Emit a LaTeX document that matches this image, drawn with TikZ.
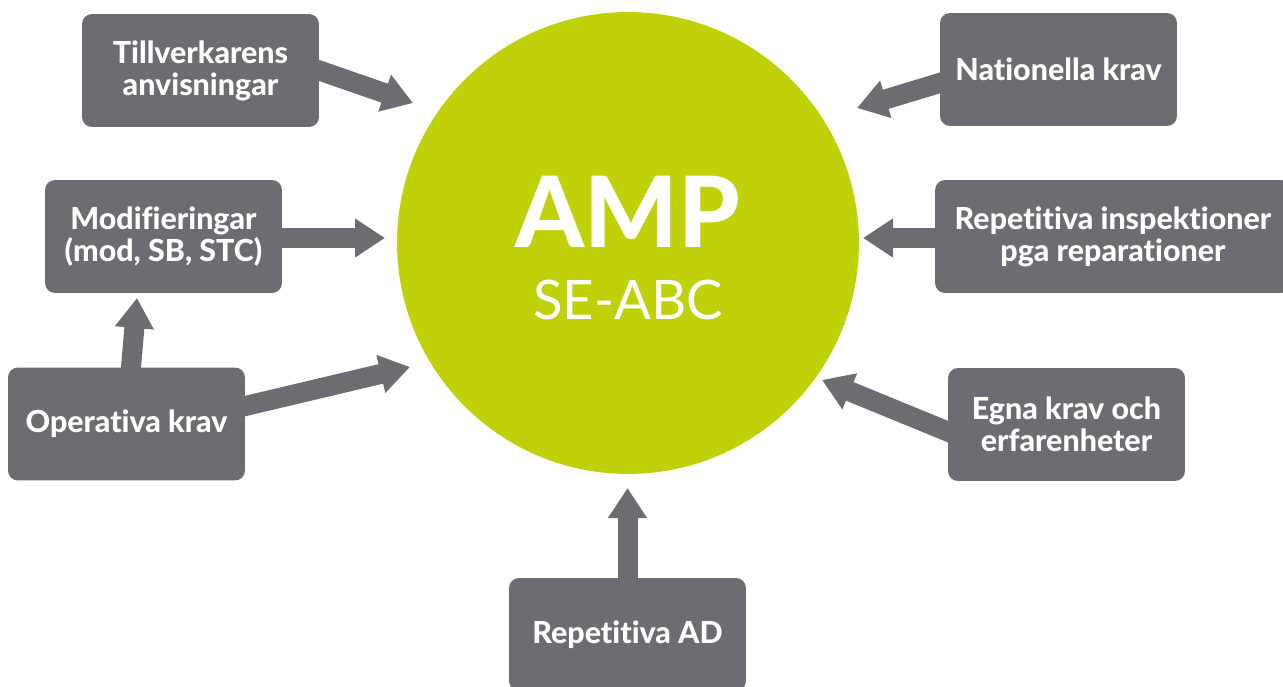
\documentclass[tikz,border=0pt]{standalone}
\usepackage{fontspec}
\setmainfont{Lato}[Ligatures=NoCommon, BoldFont={Lato Heavy}]
\usetikzlibrary{arrows.meta,calc,backgrounds}

\definecolor{boxgrey}{RGB}{108,109,113}
\definecolor{limegreen}{RGB}{192,209,10}

\tikzset{
    greybox/.style={fill=boxgrey, rounded corners=0.2cm, minimum width=4.74cm,
        minimum height=2.26cm, text=white, align=center,
        font=\fontsize{17.3}{18.3}\selectfont\bfseries},
    bigarrow/.style={draw=boxgrey, line width=0.4cm, shorten <=-0.15cm,
        -{Triangle[length=0.6cm,width=0.74cm]}, color=boxgrey}
}

\begin{document}
\begin{tikzpicture}[x=0.02cm, y=-0.02cm]
    % Fix the page size
    \useasboundingbox (0,0) rectangle (1283,686);

    % The central circle
    \node[circle, fill=limegreen, minimum size=9.24cm, inner sep=0] (amp) at (628,243) {};
    \node[text=white, font=\fontsize{56}{60}\selectfont\bfseries] (amptitle) at (628,212) {AMP};
    \node[text=white, font=\fontsize{31}{34}\selectfont] (ampsub) at (628,300) {SE-ABC};

    % Boxes on the left
    \node[greybox] (tv) at (200.5,70.5) {Tillverkarens\\anvisningar};
    \node[greybox] (mod) at (163.5,236.5) {Modifieringar\\(mod, SB, STC)};
    \node[greybox] (op) at (126.5,424) {Operativa krav};

    % Boxes on the right
    \node[greybox] (nat) at (1058.5,69.5) {Nationella krav};
    \node[greybox, minimum width=7.12cm] (rep) at (1113,236.5) {Repetitiva inspektioner\\pga reparationer};
    \node[greybox] (egna) at (1066.5,424.5) {Egna krav och\\erfarenheter};

    % Box at the bottom
    \node[greybox] (ad) at (627.5,634.5) {Repetitiva AD};

    % Arrow tips
    \coordinate (tvtip) at (413,103);
    \coordinate (modtip) at (385,238);
    \coordinate (opmodtip) at (137,298);
    \coordinate (optip) at (410,367);
    \coordinate (nattip) at (857,108);
    \coordinate (reptip) at (863,238);
    \coordinate (egnatip) at (822,380);
    \coordinate (adtip) at (627.5,488);

    % Arrows behind the boxes
    \begin{scope}[on background layer]
        \draw[bigarrow] (tv.east) -- (tvtip);
        \draw[bigarrow] (mod.east |- modtip) -- (modtip);
        \draw[bigarrow] ($(op.north)+(4.5,0)$) -- (opmodtip);
        \draw[bigarrow] ($(op.east)+(0,-18)$) -- (optip);
        \draw[bigarrow] ($(nat.west)+(0,13.5)$) -- (nattip);
        \draw[bigarrow] (rep.west |- reptip) -- (reptip);
        \draw[bigarrow] ($(egna.west)+(0,7)$) -- (egnatip);
        \draw[bigarrow] (ad.north) -- (adtip);
    \end{scope}
\end{tikzpicture}
\end{document}
